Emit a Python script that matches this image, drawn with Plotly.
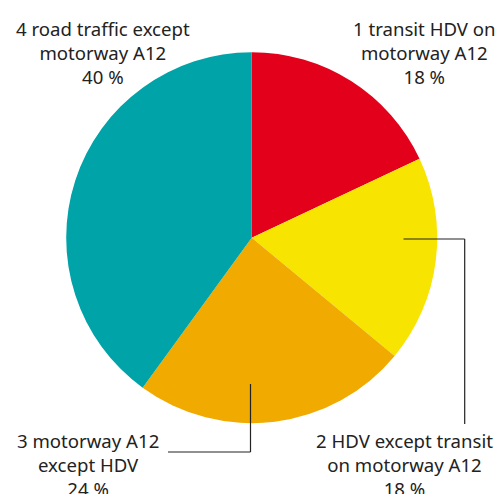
import plotly.graph_objects as go

labels = ["1 transit HDV on<br>motorway A12",
          "2 HDV except transit<br>on motorway A12",
          "3 motorway A12<br>except HDV",
          "4 road traffic except<br>motorway A12"]
values = [18, 18, 24, 40]
colors = ["#E2001A", "#F7E400", "#F0AA00", "#00A3A8"]

W, H = 500, 494
cx, cy, R = 251.7, 237.7, 185.5

fig = go.Figure(go.Pie(
    labels=[l.replace("<br>", " ") for l in labels], values=values, sort=False,
    direction="clockwise", rotation=0, textinfo="none", hoverinfo="label+percent",
    marker=dict(colors=colors, line=dict(width=0)),
    domain=dict(x=[(cx - R) / W, (cx + R) / W], y=[1 - (cy + R) / H, 1 - (cy - R) / H]),
    showlegend=False,
))

# label positions (pixel, centre of text block)
label_pos = [(424, 52), (404, 464), (88, 464), (103, 52)]
for lab, v, (px, py) in zip(labels, values, label_pos):
    fig.add_annotation(x=px / W, y=1 - py / H, xref="paper", yref="paper",
                       text=f"{lab}<br>{v} %", showarrow=False,
                       xanchor="center", yanchor="middle",
                       font=dict(family="Noto Sans", size=18.6, color="#222222"))

def line(x0, y0, x1, y1):
    fig.add_shape(type="line", xref="paper", yref="paper",
                  x0=x0 / W, y0=1 - y0 / H, x1=x1 / W, y1=1 - y1 / H,
                  line=dict(color="#222222", width=1.2))

# leader line for slice 2
line(403.5, 239, 464.7, 239)
line(464.7, 239, 464.7, 424)
# leader line for slice 3
line(250.5, 384, 250.5, 452)
line(250.5, 452, 168, 452)

fig.update_layout(width=W, height=H, margin=dict(l=0, r=0, t=0, b=0),
                  paper_bgcolor="white", plot_bgcolor="white")
fig.write_html("out.html", config={"displayModeBar": False},
               post_script="document.body.style.margin='0';")
